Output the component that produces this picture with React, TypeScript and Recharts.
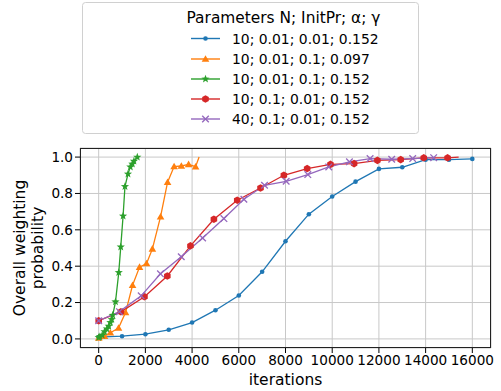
import React from 'react'
import { LineChart, Line, XAxis, YAxis, CartesianGrid } from 'recharts'

// series values: [iterations, overall weighting probability]
const blueData = [
  [0, 0.01], [1000, 0.015], [2000, 0.026], [3000, 0.05], [4000, 0.09], [5000, 0.158],
  [6000, 0.239], [7000, 0.369], [8000, 0.537], [9000, 0.686], [10000, 0.783], [11000, 0.865],
  [12000, 0.935], [13000, 0.944], [14000, 0.986], [15000, 0.986], [16000, 0.99],
]
const orangeData = [
  [0, 0.005], [250, 0.015], [500, 0.034], [850, 0.06], [1150, 0.145], [1450, 0.295],
  [1750, 0.395], [2050, 0.415], [2300, 0.495], [2650, 0.672], [2950, 0.862], [3230, 0.948],
  [3540, 0.951], [3850, 0.96], [4150, 0.947], [4300, 1.0],
]
const greenData = [
  [0, 0.008], [50, 0.012], [150, 0.02], [250, 0.04], [350, 0.055], [430, 0.07], [500, 0.09],
  [560, 0.107], [600, 0.13], [720, 0.204], [860, 0.365], [945, 0.506], [1045, 0.676],
  [1125, 0.838], [1255, 0.907], [1355, 0.946], [1440, 0.962], [1510, 0.978], [1654, 1.0],
]
const redData = [
  [0, 0.1], [950, 0.149], [1960, 0.232], [2940, 0.346], [3930, 0.512], [4934, 0.658],
  [5933, 0.763], [6930, 0.83], [7930, 0.9], [8927, 0.937], [9925, 0.96], [10938, 0.964],
  [11936, 0.982], [12933, 0.986], [13920, 0.996], [14940, 0.996], [15415, 1.0],
]
const purpleData = [
  [0, 0.1], [890, 0.15], [1820, 0.237], [2645, 0.358], [3536, 0.452], [4450, 0.555],
  [5362, 0.662], [6218, 0.768], [7102, 0.845], [8028, 0.867], [8955, 0.904], [9853, 0.946],
  [10738, 0.974], [11622, 0.992], [12548, 0.988], [13447, 0.992], [14345, 0.997],
]

const xTicks = [0, 2000, 4000, 6000, 8000, 10000, 12000, 14000, 16000]
const yTicks = [0, 0.2, 0.4, 0.6, 0.8, 1.0]
const legendTitle = 'Parameters N; InitPr; α; γ'

const FONT = '"DejaVu Sans", sans-serif'
const TICK_SIZE = 13.6

type Shape = 'dot' | 'triangle' | 'star' | 'hexagon' | 'cross'

const series = [
  { name: '10; 0.01; 0.01; 0.152', color: '#1f77b4', shape: 'dot' as Shape, data: blueData, markLast: true },
  { name: '10; 0.01; 0.1; 0.097', color: '#ff7f0e', shape: 'triangle' as Shape, data: orangeData, markLast: false },
  { name: '10; 0.01; 0.1; 0.152', color: '#2ca02c', shape: 'star' as Shape, data: greenData, markLast: true },
  { name: '10; 0.1; 0.01; 0.152', color: '#d62728', shape: 'hexagon' as Shape, data: redData, markLast: false },
  { name: '40; 0.1; 0.01; 0.152', color: '#9467bd', shape: 'cross' as Shape, data: purpleData, markLast: true },
]

function polygon(cx: number, cy: number, r: number, n: number, start: number) {
  const pts: string[] = []
  for (let i = 0; i < n; i++) {
    const a = start + (i * 2 * Math.PI) / n
    pts.push(`${cx + r * Math.cos(a)},${cy + r * Math.sin(a)}`)
  }
  return pts.join(' ')
}

function starPoints(cx: number, cy: number, r: number) {
  const pts: string[] = []
  for (let i = 0; i < 10; i++) {
    const a = -Math.PI / 2 + (i * Math.PI) / 5
    const rr = i % 2 === 0 ? r : r * 0.42
    pts.push(`${cx + rr * Math.cos(a)},${cy + rr * Math.sin(a)}`)
  }
  return pts.join(' ')
}

function Marker({ shape, cx, cy, color }: { shape: Shape; cx: number; cy: number; color: string }) {
  switch (shape) {
    case 'dot':
      return <circle cx={cx} cy={cy} r={2.3} fill={color} />
    case 'triangle':
      return <polygon points={polygon(cx, cy + 0.6, 4.4, 3, -Math.PI / 2)} fill={color} />
    case 'star':
      return <polygon points={starPoints(cx, cy, 4.3)} fill={color} />
    case 'hexagon':
      return <polygon points={polygon(cx, cy, 3.8, 6, -Math.PI / 2)} fill={color} />
    case 'cross':
      return (
        <g stroke={color} strokeWidth={1.3}>
          <line x1={cx - 3.3} y1={cy - 3.3} x2={cx + 3.3} y2={cy + 3.3} />
          <line x1={cx - 3.3} y1={cy + 3.3} x2={cx + 3.3} y2={cy - 3.3} />
        </g>
      )
  }
  return null
}

function makeDot(shape: Shape, color: string, last: number, markLast: boolean) {
  return (props: any) => {
    const { cx, cy, index } = props
    if (cx == null || cy == null || (!markLast && index === last)) return <g key={index} />
    return (
      <g key={index}>
        <Marker shape={shape} cx={cx} cy={cy} color={color} />
      </g>
    )
  }
}

function YLabel(props: any) {
  const vb = props.viewBox
  const cy = vb.y + vb.height / 2
  return (
    <g fontFamily={FONT} fontSize={15.5} fill="#000">
      <text transform={`translate(25,${cy}) rotate(-90)`} textAnchor="middle">Overall weighting</text>
      <text transform={`translate(43,${cy}) rotate(-90)`} textAnchor="middle">probability</text>
    </g>
  )
}

function XLabel(props: any) {
  const vb = props.viewBox
  return (
    <text x={vb.x + vb.width / 2} y={vb.y + 37} textAnchor="middle" fontFamily={FONT} fontSize={15.5} fill="#000">
      iterations
    </text>
  )
}

function LegendBox() {
  const rows = [38.5, 59, 79, 99, 119]
  return (
    <svg width={501} height={140} style={{ position: 'absolute', left: 0, top: 0, pointerEvents: 'none' }}>
      <rect x={82.5} y={2.5} width={336} height={131} rx={3} fill="#fff" fillOpacity={0.8} stroke="#d0d0d0" />
      <text x={283.5} y={22.5} textAnchor="middle" fontFamily={FONT} fontSize={15.4} fill="#000">
        {legendTitle}
      </text>
      {series.map((s, i) => (
        <g key={s.name}>
          <line x1={191} x2={220} y1={rows[i]} y2={rows[i]} stroke={s.color} strokeWidth={1.4} />
          <Marker shape={s.shape} cx={205.5} cy={rows[i]} color={s.color} />
          <text x={232} y={rows[i] + 5} fontFamily={FONT} fontSize={13.9} fill="#000">
            {s.name}
          </text>
        </g>
      ))}
    </svg>
  )
}

export default function App() {
  return (
    <div style={{ position: 'absolute', left: 0, top: 0, width: 501, height: 391, background: '#fff' }}>
      <LineChart width={501} height={391} margin={{ top: 148, right: 10, bottom: 13, left: 20 }}>
        <CartesianGrid stroke="#c8c8c8" strokeWidth={1} />
        <XAxis
          type="number"
          dataKey="x"
          domain={[-800, 16800]}
          ticks={xTicks}
          allowDataOverflow
          height={30}
          axisLine={false}
          tickLine={{ stroke: '#000' }}
          tickSize={5}
          tick={{ fontSize: TICK_SIZE, fill: '#000', fontFamily: FONT }}
          label={<XLabel />}
        />
        <YAxis
          type="number"
          dataKey="y"
          domain={[-0.05, 1.05]}
          ticks={yTicks}
          allowDataOverflow
          width={60}
          axisLine={false}
          tickLine={{ stroke: '#000' }}
          tickSize={5}
          tickFormatter={(v: number) => v.toFixed(1)}
          tick={{ fontSize: TICK_SIZE, fill: '#000', fontFamily: FONT }}
          label={<YLabel />}
        />
        {series.map((s) => (
          <Line
            key={s.name}
            data={s.data.map(([x, y]) => ({ x, y }))}
            dataKey="y"
            name={s.name}
            type="linear"
            stroke={s.color}
            strokeWidth={1.3}
            dot={makeDot(s.shape, s.color, s.data.length - 1, s.markLast)}
            activeDot={false}
            isAnimationActive={false}
          />
        ))}
      </LineChart>
      <div
        style={{
          position: 'absolute',
          left: 80,
          top: 148,
          width: 411,
          height: 200,
          border: '1px solid #222',
          boxSizing: 'border-box',
          pointerEvents: 'none',
        }}
      />
      <LegendBox />
    </div>
  )
}
